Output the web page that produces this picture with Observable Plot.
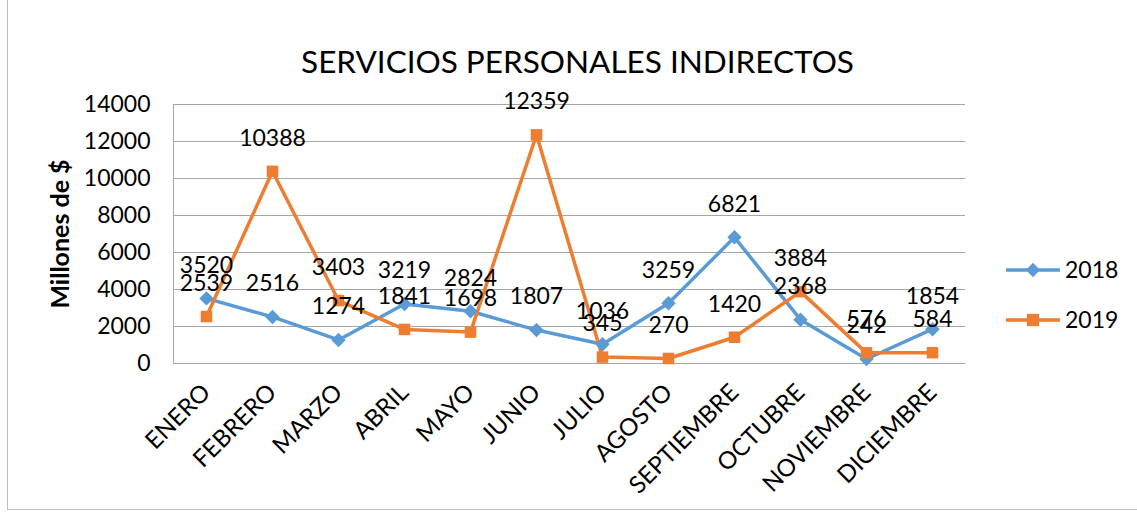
<!DOCTYPE html>
<html>
<head>
<meta charset="utf-8">
<script src="https://cdn.jsdelivr.net/npm/d3@7"></script>
<script src="https://cdn.jsdelivr.net/npm/@observablehq/plot@0.6"></script>
<style>
  html, body { margin: 0; padding: 0; background: #fff; }
  #wrap { position: relative; width: 1137px; height: 514px; overflow: hidden; font-family: Lato, "Liberation Sans", sans-serif; }
  #border { position: absolute; left: 7px; top: -1px; width: 1140px; height: 511px; border: 1px solid #bfbfbf; box-sizing: border-box; }
  #chart { position: absolute; left: 0; top: 0; }
  #legend { position: absolute; left: 0; top: 0; }
</style>
</head>
<body>
<div id="wrap">
  <div id="border"></div>
  <div id="chart"></div>
  <svg id="legend" width="1137" height="514"></svg>
</div>
<script>
const title = "SERVICIOS PERSONALES INDIRECTOS";
const yLabel = "Millones de $";
const months = ["ENERO","FEBRERO","MARZO","ABRIL","MAYO","JUNIO","JULIO","AGOSTO","SEPTIEMBRE","OCTUBRE","NOVIEMBRE","DICIEMBRE"];
const series = ["2018","2019"];
const values2018 = [3520,2516,1274,3219,2824,1807,1036,3259,6821,2368,242,1854];
const values2019 = [2539,10388,3403,1841,1698,12359,345,270,1420,3884,576,584];
const yTicks = [0,2000,4000,6000,8000,10000,12000,14000];
const colors = ["#5b9bd5","#ed7d31"];
const symbols = ["diamond2","square"];

const rows = [];
[values2018, values2019].forEach((vals, s) => {
  vals.forEach((v, i) => rows.push({month: months[i], value: v, series: series[s]}));
});

const chart = Plot.plot({
  width: 1137,
  height: 514,
  marginLeft: 173,
  marginRight: 172,
  marginTop: 104,
  marginBottom: 151,
  style: {fontFamily: "Lato, 'Liberation Sans', sans-serif", fontSize: "23px", color: "#000", background: "transparent", overflow: "visible"},
  x: {type: "point", domain: months, padding: 0.5, label: null},
  y: {domain: [0, 14000], label: null},
  color: {domain: series, range: colors},
  symbol: {domain: series, range: symbols},
  marks: [
    Plot.gridY(yTicks, {stroke: "#a6a6a6", strokeOpacity: 1, strokeWidth: 1}),
    Plot.frame({anchor: "left", stroke: "#a6a6a6"}),
    Plot.axisY(yTicks, {tickSize: 0, tickPadding: 23, fontSize: 23, tickFormat: d => String(d), label: null}),
    Plot.axisX({tickSize: 0, tickRotate: -45, tickPadding: 25, fontSize: 24, label: null}),
    Plot.line(rows, {x: "month", y: "value", z: "series", stroke: "series", strokeWidth: 3.5}),
    Plot.dot(rows, {x: "month", y: "value", symbol: "series", fill: "series", r: 6.5, stroke: null}),
    Plot.text(rows, {x: "month", y: "value", text: d => String(d.value), dy: -33, fontSize: 23, fill: "#000"}),
    Plot.text([title], {frameAnchor: "top", dy: -54, dx: 8, fontSize: 31.5, fill: "#000"}),
    Plot.text([yLabel], {frameAnchor: "left", textAnchor: "middle", rotate: -90, dx: -113, fontWeight: "bold", fontSize: 25, fill: "#000"})
  ]
});
document.getElementById("chart").appendChild(chart);

// legend
const lg = d3.select("#legend");
series.forEach((s, i) => {
  const y = 270 + i * 50;
  const g = lg.append("g");
  g.append("line").attr("x1", 1006).attr("x2", 1060).attr("y1", y).attr("y2", y)
    .attr("stroke", colors[i]).attr("stroke-width", 3.5);
  const sym = i === 0 ? d3.symbol(d3.symbolDiamond2, 130) : d3.symbol(d3.symbolSquare, 150);
  g.append("path").attr("d", sym()).attr("transform", `translate(1033,${y})`).attr("fill", colors[i]);
  g.append("text").attr("x", 1065).attr("y", y).attr("dy", "0.35em")
    .attr("font-size", 23).attr("font-family", "Lato, 'Liberation Sans', sans-serif").text(s);
});
</script>
</body>
</html>
